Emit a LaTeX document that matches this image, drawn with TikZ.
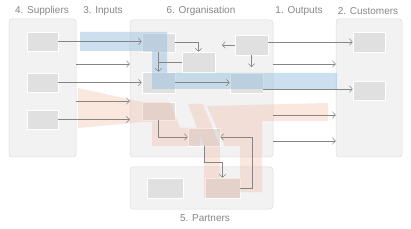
\documentclass[tikz,border=0pt]{standalone}
\usepackage{fontspec}
\setmainfont{Liberation Sans}
\usetikzlibrary{arrows.meta}
\definecolor{panelfill}{HTML}{F2F2F2}
\definecolor{paneldraw}{HTML}{DCDCDC}
\definecolor{boxfill}{HTML}{E0E0E0}
\definecolor{linecol}{HTML}{858585}
\definecolor{textcol}{HTML}{878787}
\definecolor{blueband}{RGB}{150,190,220}
\definecolor{orangeband}{RGB}{240,170,140}
\begin{document}
\begin{tikzpicture}[x=1pt,y=-1pt,
  panel/.style={draw=paneldraw, fill=panelfill, rounded corners=3pt, line width=0.5pt, inner sep=0pt},
  ibox/.style={draw=white, fill=boxfill, line width=0.6pt, inner sep=0pt},
  lbl/.style={text=textcol, font=\fontsize{10}{12}\selectfont, inner sep=0pt},
  conn/.style={draw=linecol, line width=0.5pt},
  arr/.style={conn, -{Straight Barb[length=3pt,width=6.5pt]}}
]
\useasboundingbox (0,0) rectangle (411,229);
\fill[white] (0,0) rectangle (411,229);

% panels
\node[panel, minimum width=67pt, minimum height=138pt] (sup) at (42.5,88) {};
\node[panel, minimum width=143pt, minimum height=137pt] (org) at (201.5,88.5) {};
\node[panel, minimum width=143pt, minimum height=42pt] (par) at (201.5,188) {};
\node[panel, minimum width=66pt, minimum height=138pt] (cus) at (369,88) {};

% labels
\node[lbl] (lsup) at (42,11) {4. Suppliers};
\node[lbl] (linp) at (103,11) {3. Inputs};
\node[lbl] (lorg) at (201,11) {6. Organisation};
\node[lbl] (lout) at (299,11) {1. Outputs};
\node[lbl] (lcus) at (368,11) {2. Customers};
\node[lbl] (lpar) at (205,218) {5. Partners};

% inner boxes
\node[ibox, minimum width=31pt, minimum height=19pt] (s1) at (42.5,41.5) {};
\node[ibox, minimum width=31pt, minimum height=19pt] (s2) at (42.5,82.5) {};
\node[ibox, minimum width=31pt, minimum height=19pt] (s3) at (42.5,119.5) {};
\node[ibox, minimum width=33pt, minimum height=19pt] (o1) at (158.5,42.5) {};
\node[ibox, minimum width=33pt, minimum height=20pt] (o2) at (198.5,62) {};
\node[ibox, minimum width=33pt, minimum height=21pt] (o3) at (158.5,82.5) {};
\node[ibox, minimum width=33pt, minimum height=20pt] (o4) at (251.5,45) {};
\node[ibox, minimum width=33pt, minimum height=20pt] (o5) at (246.5,83) {};
\node[ibox, minimum width=33pt, minimum height=18pt] (o6) at (158.5,111) {};
\node[ibox, minimum width=32pt, minimum height=18pt] (o7) at (204,137) {};
\node[ibox, minimum width=36pt, minimum height=20pt] (p1) at (165,188) {};
\node[ibox, minimum width=35pt, minimum height=20pt] (p2) at (222.5,188) {};
\node[ibox, minimum width=32pt, minimum height=20pt] (c1) at (369,42) {};
\node[ibox, minimum width=32pt, minimum height=19pt] (c2) at (369,90.5) {};

% bands
\fill[blueband, fill opacity=0.48] (80,32) -- (167,32) -- (167,73) -- (337,73) -- (337,89) -- (152,89) -- (152,51) -- (80,51) -- cycle;
\fill[orangeband, fill opacity=0.27]
  (78,88) -- (142,102) -- (142,122) -- (78,128) -- cycle
  (142,102) -- (170,102) -- (180,128) -- (200,128) -- (200,146) -- (152,146) -- (152,122) -- (142,122) -- cycle
  (188,104) -- (203,104) -- (220,146) -- (220,178) -- (204,178) -- (204,146) -- cycle
  (207,106) -- (328,103) -- (328,121) -- (262,121) -- (262,192) -- (240,192) -- (240,146) -- (225,146) -- cycle
  (204,178) -- (240,178) -- (240,198) -- (204,198) -- cycle;

% helper coordinates
\coordinate (r42) at (0,42);
\coordinate (r64) at (0,64);
\coordinate (r89) at (0,89);
\coordinate (r101) at (0,101);
\coordinate (r115) at (0,115);
\coordinate (r141) at (0,141);
\coordinate (o4l) at (222,45);
\coordinate (o4d) at (251.5,67);
\path (p2.north) ++(0,-15) coordinate (k1);

% inputs
\draw[arr] (s1) -- (s1 -| o1.west);
\draw[arr] (sup.east |- r64) -- (org.west |- r64);
\draw[arr] (s2) -- (s2 -| o3.west);
\draw[arr] (sup.east |- r101) -- (org.west |- r101);
\draw[arr] (s3) -- (s3 -| org.west);

% organisation
\draw[arr] (o1.east) -| (o2.north);
\draw[arr] (o4) -- (o4l);
\draw[arr] (o4.south) -- (o4d);
\draw[arr] (o1.south) -- (o3.north);
\draw[conn] (o2.west) -- (o2.west -| o1.south);
\draw[arr] (o3) -- (o3 -| o5.west);
\draw[arr] (o6.south) |- (o7.west);
\draw[arr] (o7.south) |- (k1) -- (p2.north);
\draw[arr] (p2.east) -- ++(12,0) |- (o7.east);

% outputs
\draw[arr] (o4.east |- r42) -- (c1.west |- r42);
\draw[arr] (org.east |- r64) -- (cus.west |- r64);
\draw[arr] (o5.east |- r89) -- (c2.west |- r89);
\draw[arr] (org.east |- r115) -- (cus.west |- r115);
\draw[arr] (org.east |- r141) -- (cus.west |- r141);
\end{tikzpicture}
\end{document}
